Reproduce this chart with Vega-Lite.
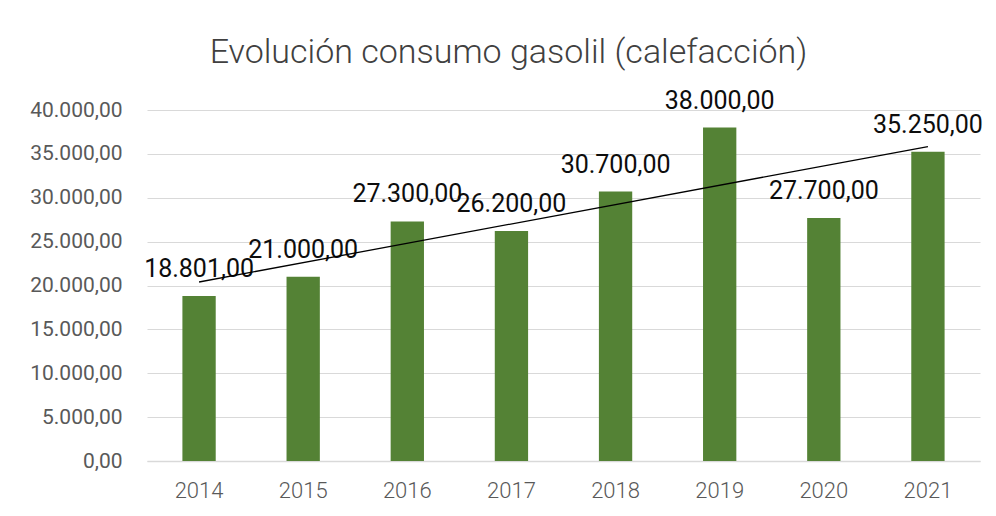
{
  "$schema": "https://vega.github.io/schema/vega-lite/v6.json",
  "width": 833,
  "height": 351,
  "autosize": {"type": "none"},
  "padding": {"left": 147, "top": 110, "right": 16, "bottom": 55},
  "background": "white",
  "config": {
    "locale": {"number": {"decimal": ",", "thousands": ".", "grouping": [3], "currency": ["", " €"]}},
    "view": {"stroke": null},
    "font": "Roboto"
  },
  "title": {
    "text": "Evolución consumo gasolil (calefacción)",
    "font": "Roboto",
    "fontSize": 34,
    "fontWeight": 300,
    "color": "#404040",
    "anchor": "middle",
    "frame": "group",
    "dx": -55,
    "offset": 19
  },
  "data": {
    "values": [
      {"year": 2014, "value": 18801},
      {"year": 2015, "value": 21000},
      {"year": 2016, "value": 27300},
      {"year": 2017, "value": 26200},
      {"year": 2018, "value": 30700},
      {"year": 2019, "value": 38000},
      {"year": 2020, "value": 27700},
      {"year": 2021, "value": 35250}
    ]
  },
  "encoding": {
    "x": {
      "field": "year",
      "type": "ordinal",
      "scale": {"paddingInner": 0.68, "paddingOuter": 0.34},
      "axis": {
        "title": null,
        "labelAngle": 0,
        "labelFontSize": 22,
        "labelFontWeight": 300,
        "labelColor": "#595959",
        "labelPadding": 19,
        "ticks": false,
        "domainColor": "#d9d9d9",
        "domainWidth": 1.5
      }
    },
    "y": {
      "field": "value",
      "type": "quantitative",
      "scale": {"domain": [0, 40000], "nice": false},
      "axis": {
        "title": null,
        "values": [0, 5000, 10000, 15000, 20000, 25000, 30000, 35000, 40000],
        "format": ",.2f",
        "labelFontSize": 21,
        "labelColor": "#595959",
        "labelPadding": 25,
        "ticks": false,
        "domain": false,
        "gridColor": "#d9d9d9",
        "gridWidth": 1.2
      }
    }
  },
  "layer": [
    {"mark": {"type": "bar", "color": "#548235"}},
    {
      "mark": {"type": "text", "baseline": "alphabetic", "dy": -19, "fontSize": 25, "color": "#0d0d0d"},
      "encoding": {"text": {"field": "value", "type": "quantitative", "format": ",.2f"}}
    },
    {
      "transform": [{"regression": "value", "on": "year", "method": "linear"}],
      "mark": {"type": "line", "color": "#000000", "strokeWidth": 1.3},
      "encoding": {}
    }
  ]
}
